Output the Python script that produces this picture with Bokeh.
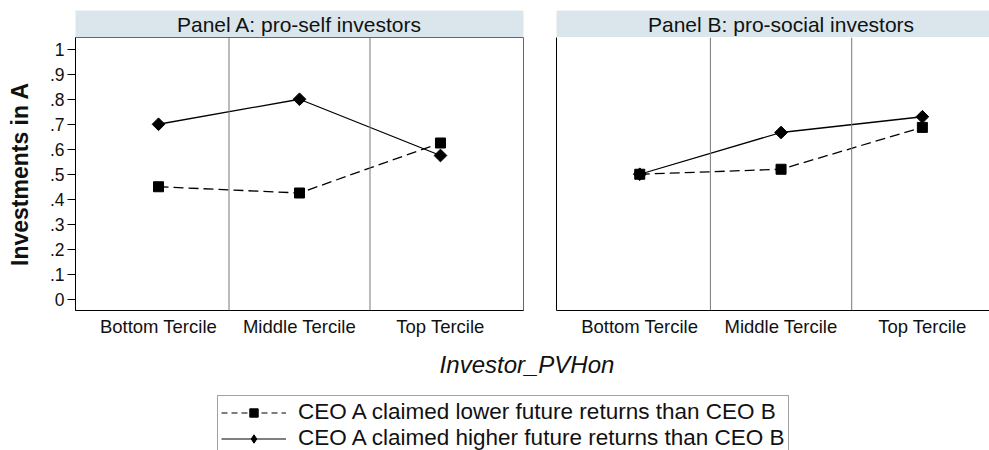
import numpy as np
from bokeh.plotting import figure
from bokeh.layouts import column, row
from bokeh.models import Range1d, FixedTicker, Span, Label, Legend, LegendItem
from bokeh.core.properties import value
from bokeh.embed import file_html
from bokeh.resources import INLINE

# ---------------- data ----------------
categories = ["Bottom Tercile", "Middle Tercile", "Top Tercile"]
panel_titles = ["Panel A: pro-self investors", "Panel B: pro-social investors"]
series_names = ["CEO A claimed lower future returns than CEO B",
                "CEO A claimed higher future returns than CEO B"]
panelA_lower = [0.45, 0.425, 0.625]
panelA_higher = [0.70, 0.80, 0.575]
panelB_lower = [0.50, 0.52, 0.6875]
panelB_higher = [0.50, 0.667, 0.73]
y_ticks = [0, 0.1, 0.2, 0.3, 0.4, 0.5, 0.6, 0.7, 0.8, 0.9, 1.0]
y_tick_labels = ["0", ".1", ".2", ".3", ".4", ".5", ".6", ".7", ".8", ".9", "1"]
x_title = "Investor_PVHon"
y_title = "Investments in A"

# ---------------- style ----------------
FONT = "Liberation Sans"
BAR = "#dae6ec"
TXT = "#111111"
xs = list(range(1, len(categories) + 1))
dividers = [x + 0.5 for x in xs[:-1]]

xrA = Range1d(0.411, 3.589)
xrB = Range1d(0.411, 3.475)
yr = Range1d(-0.045, 1.047)

WA, WB = 546, 443


def bar_fig(width, xr, left, right, title):
    p = figure(width=width, height=37, x_range=xr, y_range=Range1d(0, 1),
               output_backend="svg", toolbar_location=None,
               x_axis_location=None, y_axis_location=None,
               min_border_left=left, min_border_right=right,
               min_border_top=10, min_border_bottom=0)
    p.grid.visible = False
    p.outline_line_color = None
    p.background_fill_color = BAR
    p.border_fill_color = "white"
    p.text(x=[xs[1]], y=[0.5], text=[title], text_font=value(FONT),
           text_font_size="21px", text_color=TXT, text_align="center",
           text_baseline="middle")
    return p


def main_fig(width, xr, left, right, lower, higher, show_y):
    p = figure(width=width, height=303, x_range=xr, y_range=yr,
               output_backend="svg", toolbar_location=None,
               min_border_left=left, min_border_right=right,
               min_border_top=0, min_border_bottom=30)
    p.grid.visible = False
    p.background_fill_color = "white"
    p.border_fill_color = "white"
    # x axis
    p.xaxis.ticker = FixedTicker(ticks=xs)
    p.xaxis.major_label_overrides = {x: c for x, c in zip(xs, categories)}
    p.xaxis.major_tick_line_color = None
    p.xaxis.major_tick_out = 0
    p.xaxis.minor_tick_line_color = None
    p.xaxis.axis_line_color = "black"
    p.xaxis.major_label_standoff = 5
    p.xaxis.major_label_text_font = FONT
    p.xaxis.major_label_text_font_size = "18.5px"
    p.xaxis.major_label_text_color = TXT
    # y axis
    p.yaxis.axis_line_color = "black"
    p.yaxis.minor_tick_line_color = None
    if show_y:
        p.yaxis.ticker = FixedTicker(ticks=y_ticks)
        p.yaxis.major_label_overrides = {t: l for t, l in zip(y_ticks, y_tick_labels)}
        p.yaxis.major_tick_out = 8
        p.yaxis.major_tick_in = 0
        p.yaxis.major_tick_line_color = "black"
        p.yaxis.major_label_standoff = 3
        p.yaxis.major_label_text_font = FONT
        p.yaxis.major_label_text_font_size = "17.5px"
        p.yaxis.major_label_text_color = TXT
        p.yaxis.axis_label = y_title
        p.yaxis.axis_label_text_font = FONT
        p.yaxis.axis_label_text_font_style = "bold"
        p.yaxis.axis_label_text_font_size = "23px"
        p.yaxis.axis_label_text_color = TXT
        p.yaxis.axis_label_standoff = 14
        p.outline_line_color = "#666666"
    else:
        p.yaxis.ticker = FixedTicker(ticks=[])
        p.yaxis.major_tick_out = 0
        p.yaxis.major_label_standoff = 0
        p.outline_line_color = None
    for d in dividers:
        p.add_layout(Span(location=d, dimension="height",
                          line_color="#777777", line_width=1))
    p.line(xs, lower, line_dash="10 5", line_color="black", line_width=1.3)
    p.line(xs, higher, line_color="black", line_width=1.3)
    p.scatter(xs, lower, marker="square", size=10, color="black")
    p.scatter(xs, higher, marker="square", angle=np.pi / 4, size=9, color="black")
    return p


barA = bar_fig(WA, xrA, 75, 23, panel_titles[0])
barB = bar_fig(WB, xrB, 10, 0, panel_titles[1])
pA = main_fig(WA, xrA, 75, 23, panelA_lower, panelA_higher, True)
pB = main_fig(WB, xrB, 10, 0, panelB_lower, panelB_higher, False)

# bottom: x title and legend (legend proxies drawn off-range)
pC = figure(width=WA + WB, height=110, x_range=Range1d(0, 1), y_range=Range1d(10, 11),
            output_backend="svg", toolbar_location=None,
            x_axis_location=None, y_axis_location=None,
            min_border_left=0, min_border_right=0, min_border_top=0, min_border_bottom=0)
pC.grid.visible = False
pC.outline_line_color = None
pC.border_fill_color = "white"
pC.background_fill_color = "white"
pC.add_layout(Label(x=526.5, y=86, x_units="screen", y_units="screen", text=x_title,
                    text_font=FONT, text_font_style="italic", text_font_size="24px",
                    text_color=TXT, text_align="center", text_baseline="middle"))
l1 = pC.line(xs, panelA_lower, line_dash="6 4", line_color="black", line_width=1.2)
m1 = pC.scatter(xs, panelA_lower, marker="square", size=8, color="black")
l2 = pC.line(xs, panelA_higher, line_color="black", line_width=1.2)
m2 = pC.scatter(xs, panelA_higher, marker="diamond", size=11, color="black")
legend = Legend(items=[LegendItem(label=series_names[0], renderers=[l1, m1]),
                       LegendItem(label=series_names[1], renderers=[l2, m2])],
                location=(217, -5), orientation="vertical", padding=3, spacing=0,
                margin=0, label_height=21, glyph_height=21, glyph_width=65,
                label_standoff=12, label_text_font=FONT, label_text_font_size="22.5px",
                label_text_color=TXT, border_line_color="#444444", border_line_width=1,
                background_fill_color="white", background_fill_alpha=1)
pC.add_layout(legend)

layout = column(row(barA, barB), row(pA, pB), pC)
open("out.html", "w").write(file_html(layout, INLINE))
